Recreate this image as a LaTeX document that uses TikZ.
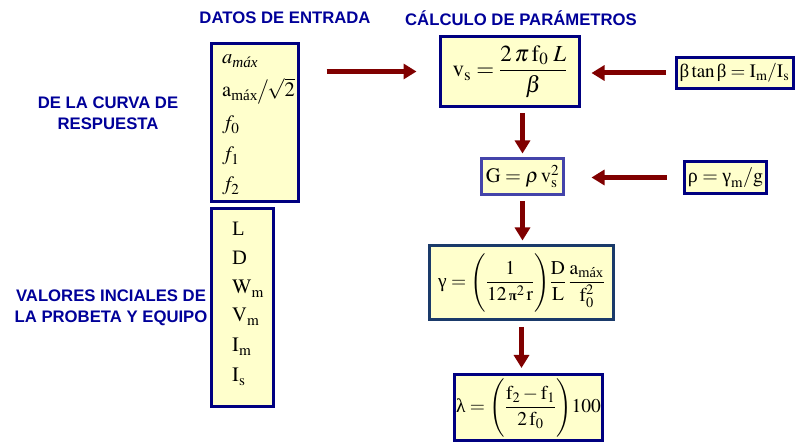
\documentclass[tikz,border=0pt]{standalone}
\usepackage{mathptmx}
\usepackage{amsmath}
\usepackage[no-math]{fontspec}
\setmainfont{Liberation Serif}
\newfontfamily\headfont{Liberation Sans}
\usetikzlibrary{arrows.meta}

\definecolor{boxnavy}{HTML}{000080}
\definecolor{boxfill}{HTML}{FFFFCC}
\definecolor{headblue}{HTML}{000099}
\definecolor{flowred}{HTML}{800000}
\definecolor{gborder}{HTML}{4444AA}
\definecolor{gammaborder}{HTML}{1A3A6A}

\newcommand{\mx}{\text{máx}}

\begin{document}
\begin{tikzpicture}[x=1pt,y=-1pt,
    box/.style={draw=boxnavy, fill=boxfill, line width=3pt, inner sep=0pt},
    head/.style={text=headblue, font=\headfont\bfseries\fontsize{16.7}{21}\selectfont, align=center},
    flow/.style={draw=flowred, line width=5pt, -{Triangle[width=15pt,length=13pt]}},
    item/.style={anchor=base west, inner sep=0pt, font=\fontsize{20.5}{24}\selectfont}]

    \useasboundingbox (0,0) rectangle (796,443);

    % Headings
    \node[head] (hdatos) at (285,18) {DATOS DE ENTRADA};
    \node[head] (hcalc) at (521,18) {CÁLCULO DE PARÁMETROS};
    \node[head] (hcurva) at (108,113.5) {DE LA CURVA DE\\RESPUESTA};
    \node[head] (hvalores) at (111,307.5) {VALORES INCIALES DE\\LA PROBETA Y EQUIPO};

    % Input data boxes
    \node[box, minimum width=87pt, minimum height=158pt] (curva) at (255,122.5) {};
    \node[box, minimum width=62pt, minimum height=198pt] (probeta) at (242.5,307.5) {};

    \foreach \y/\txt [count=\i] in {64/{$a_{\textit{máx}}$}, 97/{$\mathrm{a}_{\mx}\big/\!\sqrt{2}$},
        130/{$f_0$}, 161/{$f_1$}, 191/{$f_2$}} {
        \node[item] (c\i) at (222,\y) {\txt};
    }
    \foreach \y/\txt [count=\i] in {236/L, 265/D, 294/{$\mathrm{W}_{\mathrm{m}}$},
        322/{$\mathrm{V}_{\mathrm{m}}$}, 352/{$\mathrm{I}_{\mathrm{m}}$}, 382/{$\mathrm{I}_{\mathrm{s}}$}} {
        \node[item] (p\i) at (232,\y) {\txt};
    }

    % Parameter boxes
    \node[box, minimum width=139pt, minimum height=70pt, font=\fontsize{23}{27}\selectfont] (vs) at (510,71.5)
        {$\mathrm{v}_{\mathrm{s}} = \dfrac{2\,\pi\,\mathrm{f}_0\;L}{\beta}$};
    \node[box, minimum width=117pt, minimum height=31pt, font=\fontsize{19}{22}\selectfont] (beta) at (734.5,73)
        {$\text{β}\tan\text{β} = \mathrm{I_m/I_s}$};
    \node[box, draw=gborder, minimum width=82pt, minimum height=36pt, font=\fontsize{20.5}{24}\selectfont] (g) at (522.5,176.5)
        {$\mathrm{G} = \rho\,\mathrm{v}_{\mathrm{s}}^{2}$};
    \node[box, minimum width=82pt, minimum height=32pt, font=\fontsize{20}{24}\selectfont] (rho) at (725.5,177.5)
        {$\text{ρ} = \text{γ}_{\mathrm{m}}/\mathrm{g}$};
    \node[box, draw=gammaborder, minimum width=184pt, minimum height=74pt, font=\fontsize{19.5}{23}\selectfont] (gamma) at (521.5,282.5)
        {$\text{γ} = \Biggl(\dfrac{1}{12\,\text{\Large\bfseries π}^2\,\mathrm{r}}\Biggr)\dfrac{\mathrm{D}}{\mathrm{L}}\,\dfrac{\mathrm{a}_{\mx}}{\mathrm{f}_0^2}$};
    \node[box, minimum width=148pt, minimum height=66pt, font=\fontsize{19.5}{23}\selectfont] (lambda) at (528.5,407.5)
        {$\text{λ} = \Biggl(\dfrac{\mathrm{f}_2-\mathrm{f}_1}{2\,\mathrm{f}_0}\Biggr)100$};

    % Arrows
    \draw[flow, shorten <=26.5pt, shorten >=22.5pt] (vs.west -| curva.east) -- (vs.west);
    \draw[flow, shorten <=8.5pt, shorten >=10.5pt] (beta.west) -- (beta.west -| vs.east);
    \draw[flow, shorten <=16.5pt, shorten >=26.5pt] (rho.west) -- (rho.west -| g.east);
    \draw[flow, shorten <=5.5pt, shorten >=3.5pt] (vs.south -| g.north) -- (g.north);
    \draw[flow, shorten <=5.5pt, shorten >=3.5pt] (g.south) -- (g.south |- gamma.north);
    \draw[flow, shorten <=6pt, shorten >=5pt] (gamma.south) -- (gamma.south |- lambda.north);

\end{tikzpicture}
\end{document}
